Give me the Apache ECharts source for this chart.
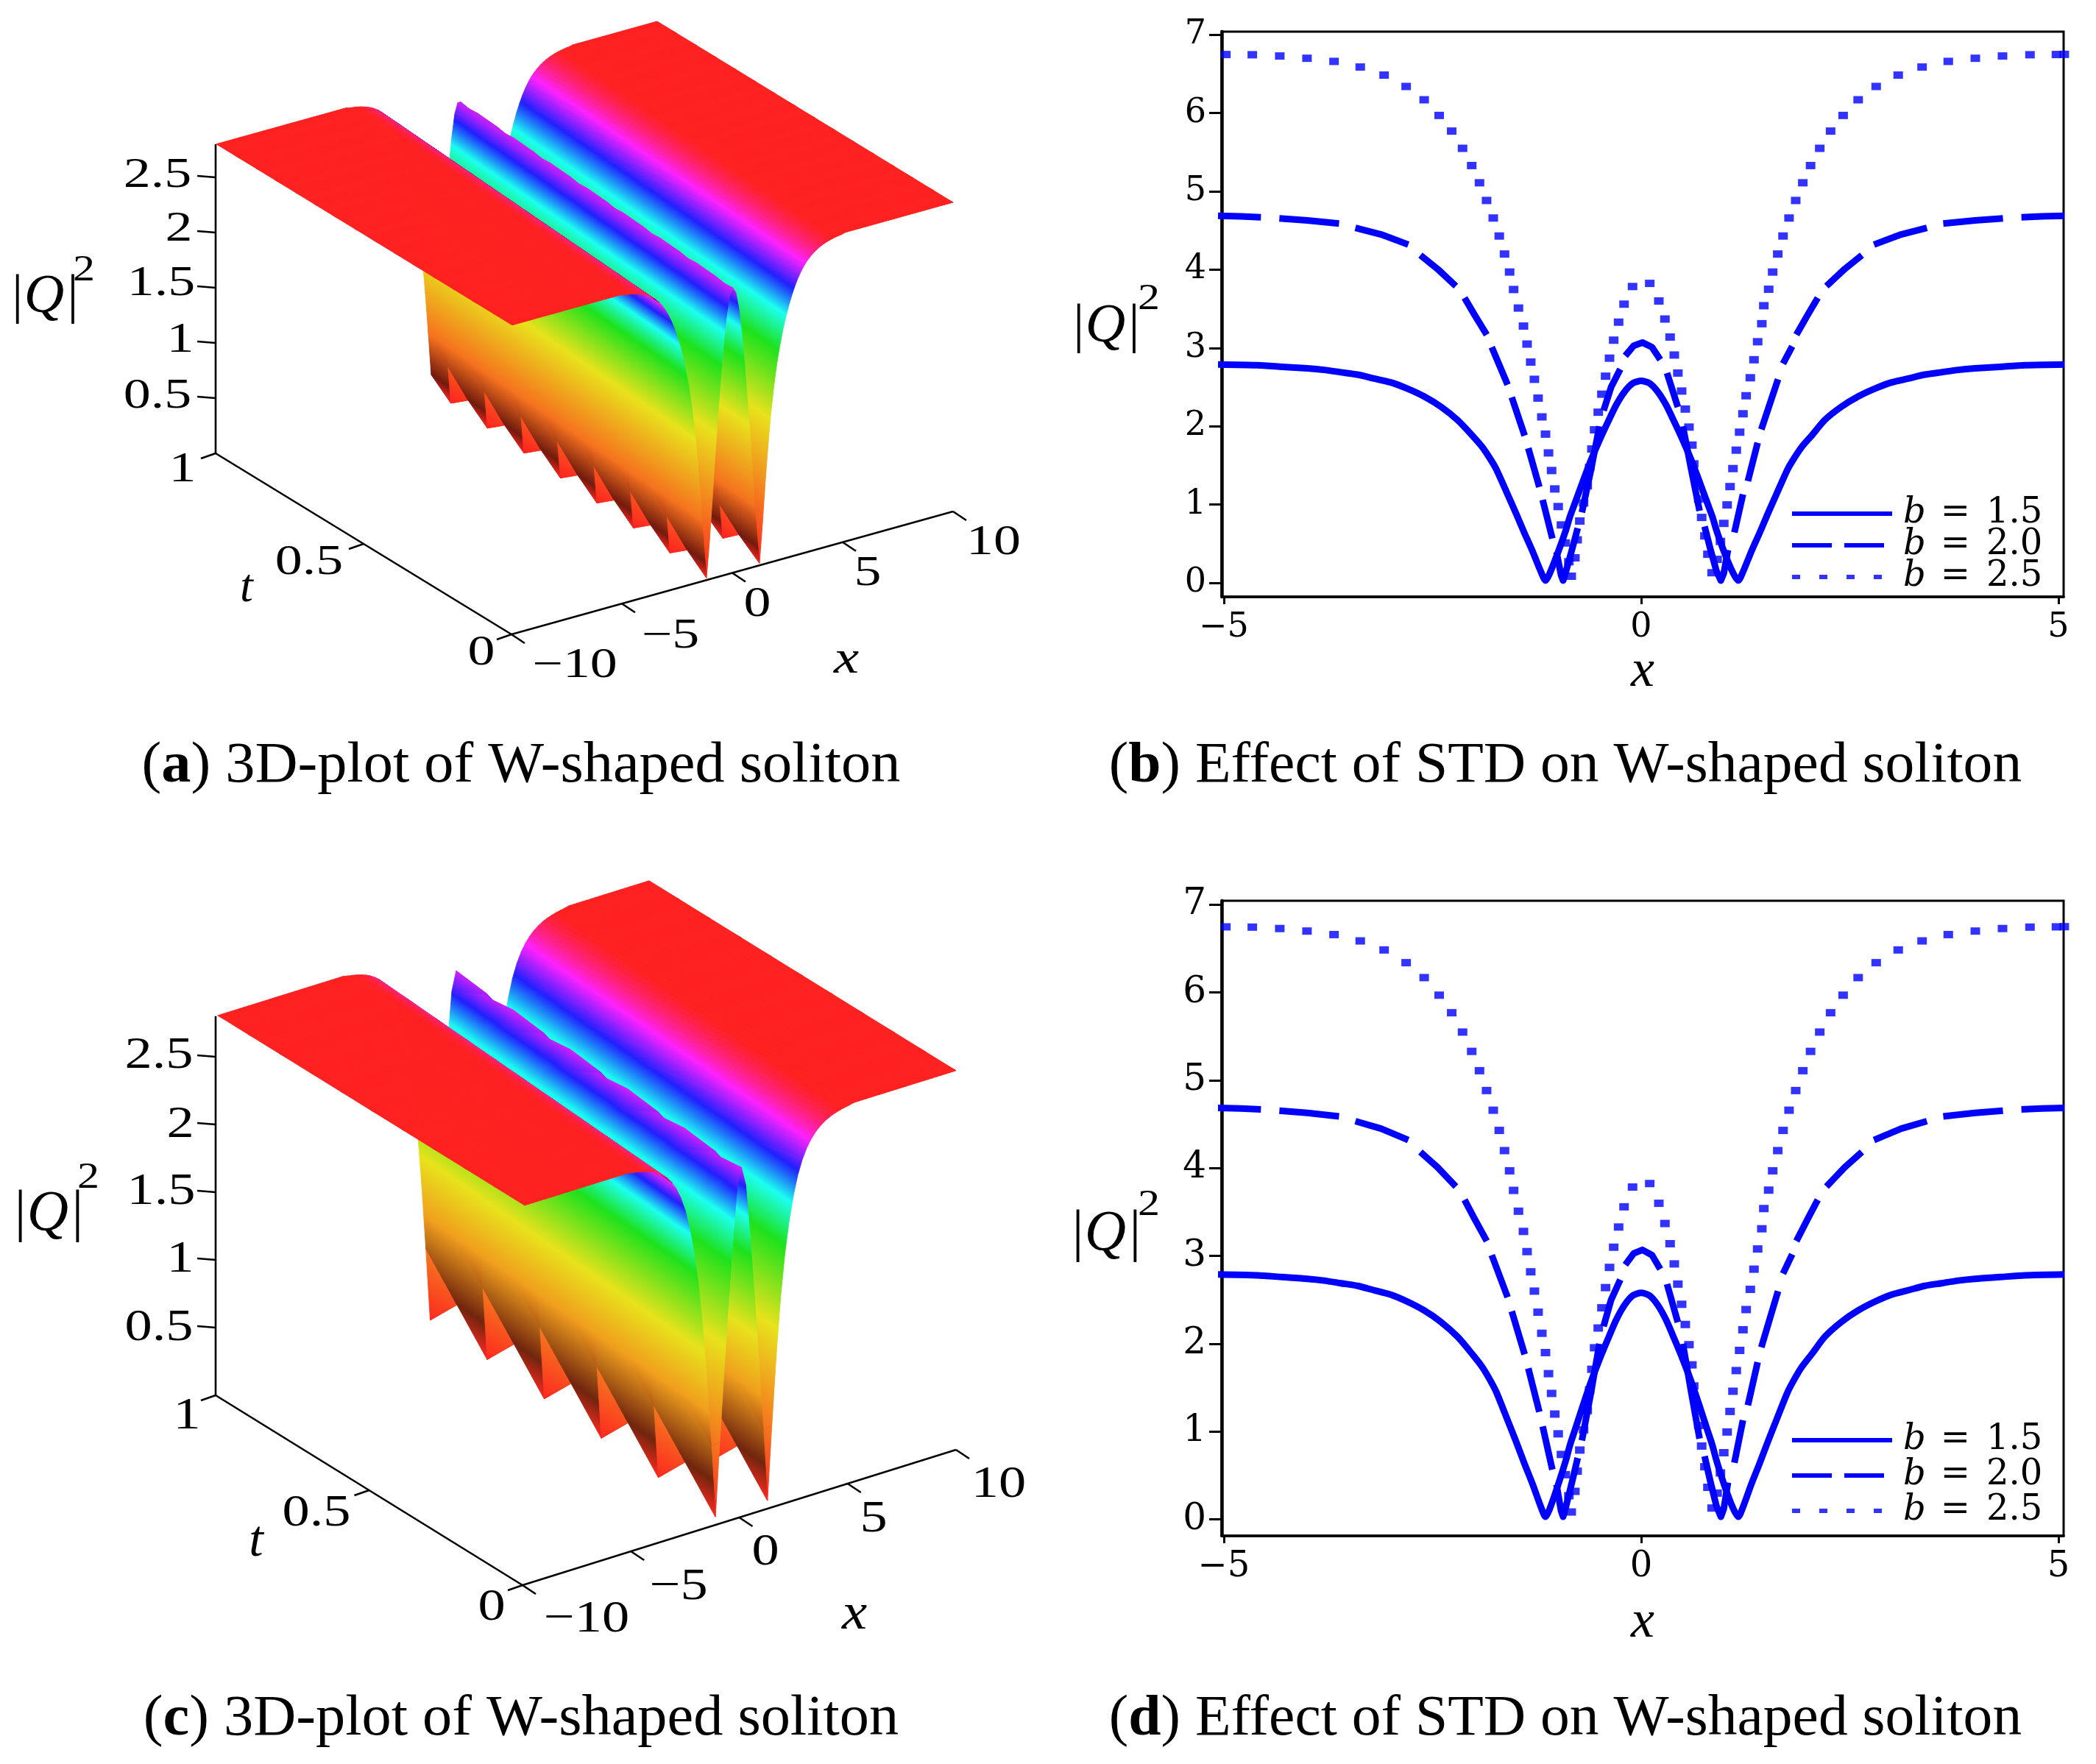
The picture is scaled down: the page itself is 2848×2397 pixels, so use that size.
<!DOCTYPE html>
<html><head><meta charset="utf-8">
<style>html,body{margin:0;padding:0;background:#fff}#c{width:2848px;height:2397px}</style>
<script src="https://cdn.jsdelivr.net/npm/echarts@6/dist/echarts.min.js"></script>
</head><body><div id="c"></div>
<script>
// ---------- line charts: values (b) and (d) ----------
const b15X=[-5.07,-4.6,-4.3,-4,-3.8,-3.6,-3.4,-3.2,-3,-2.8,-2.6,-2.4,-2.2,-2.03,-1.9,-1.8,-1.735,-1.6,-1.5,-1.4,-1.3,-1.2,-1.146,-1.1,-1,-0.9,-0.855,-0.8,-0.7,-0.6,-0.5,-0.4,-0.3,-0.2,-0.1,0,0.1,0.2,0.3,0.4,0.5,0.6,0.7,0.8,0.855,0.9,1,1.1,1.164,1.22,1.32,1.42,1.52,1.62,1.755,1.82,1.92,2.05,2.2,2.4,2.6,2.8,3,3.2,3.4,3.6,3.8,4,4.3,4.6,5.07];
const b15Y=[2.79,2.78,2.76,2.74,2.72,2.69,2.66,2.61,2.56,2.48,2.38,2.25,2.08,1.89,1.73,1.57,1.45,1.13,0.89,0.64,0.4,0.14,0.03,0.11,0.38,0.68,0.84,1,1.29,1.57,1.82,2.05,2.27,2.44,2.55,2.58,2.55,2.44,2.27,2.05,1.82,1.57,1.29,1,0.84,0.68,0.38,0.13,0.03,0.14,0.4,0.64,0.89,1.13,1.45,1.57,1.73,1.89,2.08,2.25,2.38,2.48,2.56,2.61,2.66,2.69,2.72,2.74,2.76,2.78,2.79];
const b20Dashes=[
[[-5.07,4.687],[-4.8,4.68],[-4.556,4.67]],[[-4.335,4.655],[-4,4.63],[-3.62,4.59]],
[[-3.424,4.535],[-3.116,4.45],[-2.79,4.32]],[[-2.645,4.185],[-2.44,4.01],[-2.22,3.79]],
[[-2.116,3.64],[-2,3.43],[-1.85,3.17]],[[-1.79,3.01],[-1.6,2.53]],[[-1.55,2.37],[-1.396,1.88]],
[[-1.352,1.72],[-1.22,1.225]],[[-1.18,1.06],[-1.064,0.567]],
[[-1.014,0.395],[-0.96,0.1],[-0.935,0.03],[-0.9,0.15],[-0.83,0.42],[-0.76,0.7]],
[[-0.71,0.9],[-0.6,1.45],[-0.5,2]],[[-0.45,2.2],[-0.36,2.5],[-0.25,2.73]],
[[-0.19,2.9],[-0.088,3.03],[0.015,3.07],[0.13,3.01],[0.229,2.85]],[[0.31,2.68],[0.44,2.245]],
[[0.5,2],[0.6,1.45],[0.7,0.92]],[[0.76,0.72],[0.83,0.43],[0.9,0.16],[0.955,0.03],[0.99,0.12],[1.04,0.42]],
[[1.117,0.645],[1.22,1.13]],[[1.279,1.3],[1.396,1.79]],[[1.44,1.96],[1.64,2.6]],[[1.7,2.8],[1.81,3.02]],
[[1.86,3.17],[2,3.43],[2.116,3.64]],[[2.22,3.79],[2.44,4.01],[2.645,4.185]],
[[2.79,4.32],[3.116,4.45],[3.424,4.535]],[[3.62,4.59],[4,4.63],[4.335,4.655]],[[4.556,4.67],[4.8,4.68],[5.07,4.687]]];
const b25Dots=[[-4.976,6.748],[-4.659,6.745],[-4.33,6.729],[-4.004,6.7],[-3.68,6.66],[-3.366,6.588],[-3.08,6.485],[-2.816,6.34],[-2.6,6.17],[-2.42,5.97],[-2.27,5.77],[-2.14,5.55],[-2.03,5.33],[-1.937,5.11],[-1.852,4.884],[-1.772,4.66],[-1.7,4.43],[-1.637,4.2],[-1.576,3.97],[-1.528,3.747],[-1.47,3.51],[-1.41,3.28],[-1.367,3.05],[-1.323,2.82],[-1.279,2.6],[-1.235,2.36],[-1.19,2.12],[-1.146,1.9],[-1.11,1.66],[-1.073,1.435],[-1.035,1.2],[-0.994,0.975],[-0.955,0.74],[-0.91,0.51],[-0.866,0.27],[-0.838,0.085],[-0.794,0.32],[-0.767,0.55],[-0.735,0.79],[-0.69,1.02],[-0.646,1.24],[-0.617,1.475],[-0.59,1.71],[-0.558,1.955],[-0.514,2.18],[-0.47,2.41],[-0.426,2.64],[-0.379,2.87],[-0.329,3.1],[-0.27,3.33],[-0.205,3.56],[-0.103,3.785],[0.103,3.825],[0.212,3.6],[0.285,3.37],[0.347,3.14],[0.397,2.91],[0.44,2.68],[0.485,2.45],[0.529,2.22],[0.573,1.99],[0.608,1.76],[0.63,1.52],[0.66,1.29],[0.69,1.07],[0.725,0.836],[0.764,0.6],[0.8,0.366],[0.85,0.13],[0.91,0.3],[0.95,0.53],[0.99,0.76],[1.03,0.996],[1.065,1.23],[1.1,1.46],[1.14,1.695],[1.18,1.925],[1.22,2.16],[1.258,2.39],[1.308,2.62],[1.352,2.85],[1.396,3.08],[1.446,3.31],[1.47,3.54],[1.528,3.75],[1.576,3.97],[1.637,4.2],[1.7,4.43],[1.772,4.66],[1.852,4.884],[1.937,5.11],[2.03,5.33],[2.14,5.55],[2.27,5.77],[2.42,5.97],[2.6,6.17],[2.816,6.34],[3.08,6.485],[3.366,6.588],[3.68,6.66],[4.004,6.7],[4.33,6.729],[4.659,6.745],[4.976,6.748],[5.07,6.75]];
const xTicks=[-5,0,5];
const yTicks=[0,1,2,3,4,5,6,7];
const seriesNames=['b = 1.5','b = 2.0','b = 2.5'];

// ---------- 3D surfaces: profile |Q|^2 read at half-cell steps from x=0 outward ----------
const profileA=[2.58,2.565,2.53,2.47,2.38,2.27,2.14,2,1.85,1.68,1.5,1.32,1.13,0.93,0.72,0.52,0.33,0.16,0.02,0.17,0.36,0.56,0.75,0.93,1.09,1.24,1.38,1.5,1.61,1.71,1.8,1.877,1.949,2.016,2.078,2.135,2.188,2.237,2.283,2.326,2.366,2.403,2.438,2.47,2.5,2.527,2.552,2.575,2.596,2.615,2.632,2.648,2.662,2.675,2.687,2.698,2.708,2.717,2.725,2.733,2.74,2.746,2.752,2.757,2.762,2.766,2.77,2.774,2.777,2.78,2.783,2.785,2.787,2.789,2.791,2.793];
const profileC=[2.58,2.55,2.44,2.27,2.05,1.82,1.6,1.37,1.12,0.88,0.6,0.33,0.06,0.33,0.6,0.86,1.1,1.33,1.52,1.69,1.84,1.965,2.075,2.17,2.255,2.33,2.395,2.45,2.495,2.535,2.57,2.6,2.625,2.648,2.668,2.685,2.7,2.713,2.725,2.735,2.744,2.752,2.759,2.765,2.77,2.775,2.779,2.783,2.786,2.789,2.792];
const plateau=2.8;
const zTicks3D=[0.5,1,1.5,2,2.5], tTicks3D=[0,0.5,1], xTicks3D=[-10,-5,0,5,10];
const hueZ=[0,1.3,1.9,2.2,2.42,2.62,2.78];
const hueRGB=[[255,32,32],[232,226,28],[28,226,28],[28,255,240],[32,32,255],[255,32,255],[255,32,32]];

const panelA={o:[695,862],ex:[600,-167],et:[-402,-246],ez:[0,-150],xOff:0.03,cols:150,rows:15,dip:18,darkZ:[0.02,0.17,0.55],profile:profileA,stepX:2/15,stepT:1/15};
const panelC={o:[710,2154],ex:[589,-184],et:[-417,-258],ez:[0,-184],xOff:0.1,cols:100,rows:10,dip:12,darkZ:[0.06,0.33,0.85],profile:profileC,stepX:0.2,stepT:0.1};
const darkS=[1,0.45,1];

function project(p,x,t,z){const u=(x+10)/20;return [p.o[0]+u*p.ex[0]+t*p.et[0]+z*p.ez[0],p.o[1]+u*p.ex[1]+t*p.et[1]+z*p.ez[1]];}
function rgbOf(z){
  if(z<=hueZ[0])return hueRGB[0];
  for(let i=1;i<hueZ.length;i++){if(z<=hueZ[i]){const f=(z-hueZ[i-1])/(hueZ[i]-hueZ[i-1]);const a=hueRGB[i-1],b=hueRGB[i];return [a[0]+f*(b[0]-a[0]),a[1]+f*(b[1]-a[1]),a[2]+f*(b[2]-a[2])];}}
  return hueRGB[hueRGB.length-1];
}
function css(c,s){return 'rgb('+Math.round(c[0]*s)+','+Math.round(c[1]*s)+','+Math.round(c[2]*s)+')';}
function vertex(p,i,k){
  const h0=2*(i-p.cols/2)-k, h=Math.abs(h0);
  const z=h<p.profile.length?p.profile[h]:plateau;
  const x=Math.max(-10,Math.min(10,-10+i*p.stepX+p.xOff));
  const under=(h0<-p.dip)||(h0>=0&&h0<p.dip);
  return [x,k*p.stepT,z,under];
}
function rim(v){
  const a=[(v[1][0]-v[0][0])/20,v[1][1]-v[0][1],(v[1][2]-v[0][2])/2.8];
  const b=[(v[2][0]-v[0][0])/20,v[2][1]-v[0][1],(v[2][2]-v[0][2])/2.8];
  const n=[a[1]*b[2]-a[2]*b[1],a[2]*b[0]-a[0]*b[2],a[0]*b[1]-a[1]*b[0]];
  const l=Math.hypot(n[0],n[1],n[2])||1;
  const d=Math.abs(-0.452*n[0]-0.677*n[1]+0.577*n[2])/l;
  return 0.42+0.58*Math.min(1,d/0.1);
}
function triangles(p){
  const out=[];
  for(let k=p.rows-1;k>=0;k--)for(let i=p.cols-1;i>=0;i--){
    const A=vertex(p,i,k),B=vertex(p,i+1,k),C=vertex(p,i,k+1),D=vertex(p,i+1,k+1);
    out.push([B,D,C]);out.push([A,B,C]);
  }
  return out;
}
function lit(z,under,dz){
  if(!under||z>=dz[2])return 1;
  if(z<=dz[0])return darkS[0];
  if(z<=dz[1])return darkS[0]+(darkS[1]-darkS[0])*(z-dz[0])/(dz[1]-dz[0]);
  return darkS[1]+(darkS[2]-darkS[1])*(z-dz[1])/(dz[2]-dz[1]);
}
function fillFor(pts,v,s,dz){
  const o=[0,1,2].sort((a,b)=>v[a][2]-v[b][2]);
  const L=pts[o[0]],M=pts[o[1]],H=pts[o[2]],zl=v[o[0]][2],zm=v[o[1]][2],zh=v[o[2]][2];
  const under=(v[0][3]?1:0)+(v[1][3]?1:0)+(v[2][3]?1:0)>=2;
  const col=z=>css(rgbOf(z),s*lit(z,under,dz));
  if(zh-zl<0.002)return col((zl+zh)/2);
  const f=(zm-zl)/(zh-zl);
  const Q=[L[0]+(H[0]-L[0])*f,L[1]+(H[1]-L[1])*f];
  let d=[M[0]-Q[0],M[1]-Q[1]],n=[-d[1],d[0]],len=Math.hypot(n[0],n[1]);
  if(len<1e-6){n=[H[0]-L[0],H[1]-L[1]];len=Math.hypot(n[0],n[1])||1;}
  n=[n[0]/len,n[1]/len];
  let sp=(H[0]-L[0])*n[0]+(H[1]-L[1])*n[1];
  if(sp<0){n=[-n[0],-n[1]];sp=-sp;}
  if(sp<1e-3)return col((zl+zh)/2);
  const stopsZ=[zl];
  hueZ.concat(dz).sort((a,b)=>a-b).forEach(z=>{if(z>zl&&z<zh)stopsZ.push(z);});
  stopsZ.push(zh);
  return {type:'linear',global:true,x:L[0],y:L[1],x2:L[0]+n[0]*sp,y2:L[1]+n[1]*sp,
    colorStops:stopsZ.map(z=>({offset:(z-zl)/(zh-zl),color:col(z)}))};
}
function surfaceSeries(p){
  const tris=triangles(p);
  return {type:'custom',coordinateSystem:'cartesian2d',xAxisIndex:2,yAxisIndex:2,silent:true,animation:false,progressive:0,clip:false,
    data:tris.map((_,i)=>[i]),
    encode:{x:0,y:0},
    renderItem:(params,api)=>{
      const v=tris[api.value(0)];
      const pts=v.map(w=>api.coord(project(p,w[0],w[1],w[2])));
      const f=fillFor(pts,v,rim(v),p.darkZ);
      return {type:'polygon',shape:{points:pts},silent:true,style:{fill:f,stroke:f,lineWidth:0.9}};
    }};
}
function axesSeries(p){
  const seg=[];
  const P=(x,t,z)=>project(p,x,t,z);
  seg.push([P(-10,1,0),P(-10,1,plateau)]);
  seg.push([P(-10,0,0),P(-10,1,0)]);
  seg.push([P(-10,0,0),P(10,0,0)]);
  zTicks3D.forEach(z=>{const a=P(-10,1,z);seg.push([a,[a[0]-25,a[1]-2]]);});
  tTicks3D.forEach(t=>{const a=P(-10,t,0);seg.push([a,[a[0]-20,a[1]+7]]);});
  xTicks3D.forEach(x=>{const a=P(x,0,0);seg.push([a,[a[0]+18,a[1]+12]]);});
  return {type:'custom',coordinateSystem:'cartesian2d',xAxisIndex:2,yAxisIndex:2,silent:true,animation:false,clip:false,z:1,
    data:seg.map((_,i)=>[i]),encode:{x:0,y:0},
    renderItem:(params,api)=>{
      const s=seg[api.value(0)],a=api.coord(s[0]),b=api.coord(s[1]);
      return {type:'line',shape:{x1:a[0],y1:a[1],x2:b[0],y2:b[1]},style:{stroke:'#000',lineWidth:2.6}};
    }};
}

const serif='"Liberation Serif",serif', wide='"DejaVu Serif",serif';
function label(t,x,y,size,sx,sy,italic){
  return {type:'text',x:x,y:y,scaleX:sx||1,scaleY:sy||1,silent:true,z:10,
    style:{text:t,x:0,y:0,align:'center',verticalAlign:'middle',fill:'#000',
      font:(italic?'italic ':'')+size+'px '+serif}};
}
function caption(letter,rest,cx,cy,sx){
  return {type:'text',x:cx,y:cy,silent:true,z:10,scaleX:sx,
    style:{text:'({b|'+letter+'}) '+rest,x:0,y:0,align:'center',verticalAlign:'middle',fill:'#000',
      font:'78px '+serif,rich:{b:{font:'bold 78px '+serif,fill:'#000'}}}};
}
const graphicEls=[
  label('2.5',214,239,56,1.32),label('2',243,312,56,1.32),label('1.5',219,386,56,1.32),label('1',245,463,56,1.32),label('0.5',214,539,56,1.32),
  label('1',248,639,56,1.32),label('0.5',420,765,56,1.32),label('0',654,888,56,1.32),label('t',335,800,64,1,1,true),
  label('−10',781,905,56,1.32),label('−5',911,865,56,1.32),label('0',1029,822,56,1.32),label('5',1179,780,56,1.32),label('10',1350,738,56,1.32),label('x',1150,897,64,1.2,1,true),
  label('|Q|',60,405,74,1.02,1,true),label('2',114,368,50,1.2),
  label('2.5',216,1435,62,1.2),label('2',245,1529,62,1.2),label('1.5',219,1620,62,1.2),label('1',245,1712,62,1.2),label('0.5',216,1805,62,1.2),
  label('1',254,1925,62,1.2),label('0.5',430,2057,62,1.2),label('0',668,2185,62,1.2),label('t',348,2096,70,1,1,true),
  label('−10',797,2201,62,1.2),label('−5',922,2157,62,1.2),label('0',1040,2110,62,1.2),label('5',1187,2065,62,1.2),label('10',1357,2018,62,1.2),label('x',1161,2195,70,1.1,1,true),
  label('|Q|',65,1650,78,1,1,true),label('2',120,1601,50,1.2),
  label('|Q|',1502,445,74,1.02,1,true),label('2',1561,407,50,1.2),
  label('|Q|',1502,1677,78,1,1,true),label('2',1561,1638,50,1.2),
  caption('a','3D-plot of W-shaped soliton',708,1042,1.03),
  caption('b','Effect of STD on W-shaped soliton',2127,1042,1.02),
  caption('c','3D-plot of W-shaped soliton',708,2337,1.03),
  caption('d','Effect of STD on W-shaped soliton',2127,2337,1.02)
];

function cartAxes(idx){
  return {
    x:{type:'value',gridIndex:idx,min:-5.026,max:5.062,splitLine:{show:false},
      axisLine:{onZero:false,lineStyle:{color:'#000',width:3.5}},
      axisTick:{customValues:xTicks,length:10,lineStyle:{color:'#000',width:3}},
      axisLabel:{customValues:xTicks,margin:19,color:'#000',fontFamily:wide,fontSize:idx?48:46,formatter:v=>v<0?'−'+(-v):''+v},
      name:'x',nameLocation:'middle',nameGap:idx?82:62,nameTextStyle:{color:'#000',fontFamily:serif,fontStyle:'italic',fontSize:72}},
    y:{type:'value',gridIndex:idx,min:idx?-0.187:-0.178,max:idx?7.045:7.04,splitLine:{show:false},
      axisLine:{onZero:false,lineStyle:{color:'#000',width:4.5}},
      axisTick:{customValues:yTicks,length:17,lineStyle:{color:'#000',width:3}},
      axisLabel:{customValues:yTicks,margin:21,color:'#000',fontFamily:wide,fontSize:idx?50:46,formatter:v=>''+v}}
  };
}
const A0=cartAxes(0),A1=cartAxes(1);
function dashedData(){const d=[];b20Dashes.forEach((s,i)=>{if(i)d.push([s[0][0],null]);s.forEach(p=>d.push(p));});return d;}
function lineSeries(idx){
  return [
    {name:seriesNames[0],type:'line',xAxisIndex:idx,yAxisIndex:idx,showSymbol:false,clip:false,animation:false,silent:true,smooth:0.25,
      data:b15X.map((x,i)=>[x,b15Y[i]]),lineStyle:{color:'#0000ff',width:9,join:'round',cap:'butt'},itemStyle:{color:'#0000ff'}},
    {name:seriesNames[1],type:'line',xAxisIndex:idx,yAxisIndex:idx,showSymbol:false,clip:false,animation:false,silent:true,connectNulls:false,
      data:dashedData(),lineStyle:{color:'#0000ff',width:9,join:'round',cap:'butt'},itemStyle:{color:'#0000ff'}},
    {name:seriesNames[2],type:'scatter',xAxisIndex:idx,yAxisIndex:idx,clip:false,animation:false,silent:true,
      data:b25Dots,symbol:'rect',symbolSize:[13,10],itemStyle:{color:'#0000ff'}}
  ];
}
const iconSolid='path://M0 0H136V6H0Z';
const iconDash='path://M0 0H54V6H0Z M71 0H125V6H71Z M136 0L136 0.01Z';
const iconDots='path://M0 0H11V6H0Z M37 0H48V6H37Z M74 0H85V6H74Z M111 0H122V6H111Z M136 0L136 0.01Z';
function legendFor(top,gap,size){
  return {orient:'vertical',left:2435,top:top,itemGap:gap,itemWidth:136,itemHeight:7,padding:0,selectedMode:false,
    data:[{name:seriesNames[0],icon:iconSolid},{name:seriesNames[1],icon:iconDash},{name:seriesNames[2],icon:iconDots}],
    formatter:n=>'{i|b}{e|=}{t|'+n.slice(4)+'}',
    textStyle:{color:'#000',rich:{
      i:{fontFamily:wide,fontStyle:'italic',fontSize:size,padding:[0,20,0,10],color:'#000'},
      e:{fontFamily:wide,fontSize:size,padding:[0,22,0,0],color:'#000'},
      t:{fontFamily:wide,fontSize:size,color:'#000'}}}};
}

const chart=echarts.init(document.getElementById('c'),null,{width:2848,height:2397,renderer:'canvas'});
chart.setOption({
  animation:false,backgroundColor:'#fff',
  grid:[
    {left:1660,top:43,width:1144,height:768,show:true,borderColor:'#000',borderWidth:3,backgroundColor:'transparent'},
    {left:1660,top:1224,width:1144,height:863,show:true,borderColor:'#000',borderWidth:3,backgroundColor:'transparent'},
    {left:0,top:0,width:2848,height:2397}
  ],
  xAxis:[A0.x,A1.x,{type:'value',gridIndex:2,min:0,max:2848,show:false}],
  yAxis:[A0.y,A1.y,{type:'value',gridIndex:2,min:0,max:2397,inverse:true,show:false}],
  legend:[legendFor(674,-5,48),legendFor(1933,0,48)],
  series:[surfaceSeries(panelA),axesSeries(panelA),surfaceSeries(panelC),axesSeries(panelC)].concat(lineSeries(0),lineSeries(1)),
  graphic:{elements:graphicEls}
});
</script></body></html>
